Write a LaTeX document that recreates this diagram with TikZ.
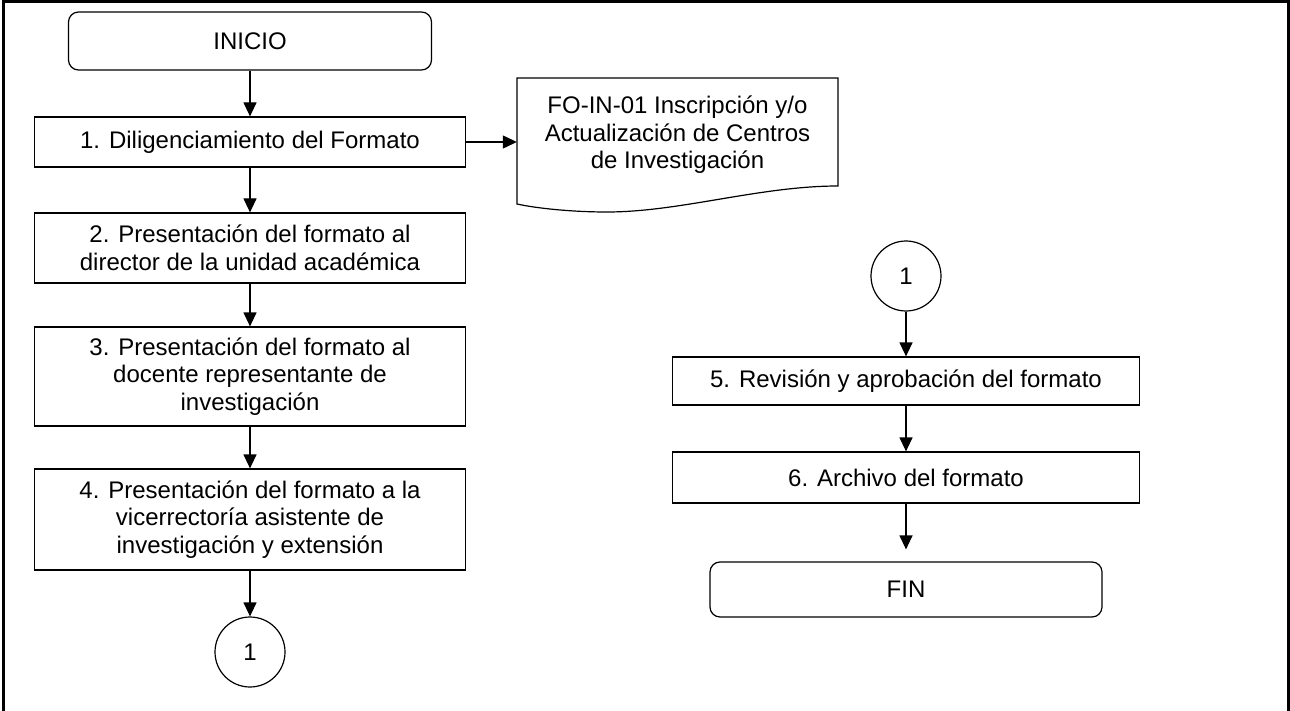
\documentclass[tikz,border=0pt]{standalone}
\usepackage{fontspec}
\setmainfont{Liberation Sans}
\usetikzlibrary{arrows.meta}
\begin{document}
\begin{tikzpicture}[x=1pt, y=-1pt, >={Triangle[length=14pt,width=13pt]}, node distance=100pt,
        font=\fontsize{24}{27.5}\selectfont]
        % Estilo de los nodos
        \tikzstyle{paso} = [rectangle, draw, line width=1.2pt, minimum width=431pt, inner sep=0pt, align=center]
        \tikzstyle{terminal} = [rectangle, rounded corners=10pt, draw, line width=1.2pt, inner sep=0pt]
        \tikzstyle{conector} = [circle, draw, line width=1.2pt, minimum size=70pt, inner sep=0pt]

        % Marco
        \useasboundingbox (0,0) rectangle (1290,711);
        \draw[line width=3pt] (3,711) -- (3,1.5) -- (1288.5,1.5) -- (1288.5,711);

        % Columna izquierda
        \node[terminal, minimum width=363pt, minimum height=58pt] (inicio) at (250,41) {INICIO};
        \node[paso, minimum height=50pt] (p1) [below of=inicio, node distance=101pt] {1. Diligenciamiento del Formato};
        \node[paso, minimum height=70pt] (p2) [below of=p1, node distance=106pt] {2. Presentación del formato al\\director de la unidad académica};
        \node[paso, minimum height=99pt] (p3) [below of=p2, node distance=128.5pt] {3. Presentación del formato al\\docente representante de\\investigación};
        \node[paso, minimum height=101pt] (p4) [below of=p3, node distance=143pt] {4. Presentación del formato a la\\vicerrectoría asistente de\\investigación y extensión};
        \node[conector] (c1a) [below of=p4, node distance=132.5pt] {1};

        % Documento
        \node[align=center, minimum width=321pt, inner sep=0pt] (doc) at (677.5,135) {FO-IN-01 Inscripción y/o\\Actualización de Centros\\de Investigación};
        \draw[line width=1.2pt] (517,78) -- (838,78) -- (838,186)
            .. controls (760,186) and (680,212) .. (607,212)
            .. controls (570,212) and (535,208) .. (517,204) -- cycle;

        % Columna derecha
        \node[conector] (c1b) at (906,276) {1};
        \node[paso, minimum width=467pt, minimum height=48pt] (p5) [below of=c1b, node distance=105pt] {5. Revisión y aprobación del formato};
        \node[paso, minimum width=467pt, minimum height=51pt] (p6) [below of=p5, node distance=96.5pt] {6. Archivo del formato};
        \node[terminal, minimum width=392pt, minimum height=55pt] (fin) [below of=p6, node distance=112pt] {FIN};

        % Flechas
        \draw[->, line width=1.2pt] (inicio) -- (p1);
        \draw[->, line width=1.2pt] (p1) -- (p1 -| doc.west);
        \draw[->, line width=1.2pt] (p1) -- (p2);
        \draw[->, line width=1.2pt] (p2) -- (p3);
        \draw[->, line width=1.2pt] (p3) -- (p4);
        \draw[->, line width=1.2pt] (p4) -- (c1a);
        \draw[->, line width=1.2pt] (c1b) -- (p5);
        \draw[->, line width=1.2pt] (p5) -- (p6);
        \draw[->, line width=1.2pt, shorten >=12pt] (p6) -- (fin);

    \end{tikzpicture}
\end{document}
